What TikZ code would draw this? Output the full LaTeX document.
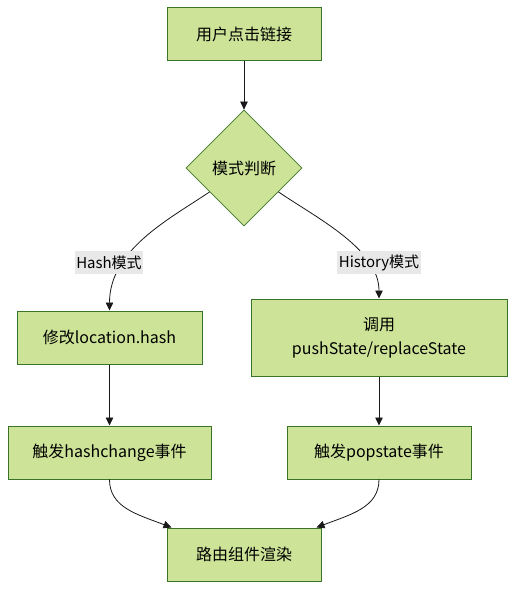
\documentclass[tikz,border=0pt]{standalone}
\usepackage{fontspec}
\setmainfont{Noto Sans CJK SC}
\usepackage{tikz}
\usetikzlibrary{arrows.meta,calc,positioning,shapes.geometric}
\definecolor{boxfill}{HTML}{CDE498}
\definecolor{boxline}{HTML}{3A7428}
\definecolor{labfill}{HTML}{E8E8E8}
\tikzset{
	flow chart/.style={
		x=1pt, y=-1pt,
		font=\fontsize{16}{24}\selectfont,
		link/.style={draw=black!90, line width=.8pt, -{Triangle[length=8pt,width=7.5pt]}},
		stepbox/.style={draw=boxline, fill=boxfill, line width=1pt, inner sep=0pt,
			minimum width=##1, minimum height=53pt, align=center},
		choice/.style={diamond, draw=boxline, fill=boxfill, line width=.8pt, inner sep=0pt,
			minimum width=116pt, minimum height=116pt},
		edge label/.style={fill=labfill, inner sep=1.5pt, minimum height=23pt,
			font=\fontsize{15}{18}\selectfont}
	}
}
\begin{document}
\begin{tikzpicture}[flow chart]
	\useasboundingbox (0,0) rectangle (524,598);
	\node[stepbox=154pt] (click) at (244,34) {用户点击链接};
	\node[choice] (mode) at (244,168) {模式判断};
	\node[stepbox=185pt] (sethash) at (109.5,337.5) {修改location.hash};
	\node[stepbox=256pt, minimum height=77pt] (callapi) at (379,337.5) {调用\\pushState/replaceState};
	\node[stepbox=203pt] (hashev) at (109.5,452.5) {触发hashchange事件};
	\node[stepbox=184pt] (popev) at (379,452.5) {触发popstate事件};
	\node[stepbox=154pt] (render) at (244,554.5) {路由组件渲染};
	\draw[link] (click) -- (mode);
	\draw[link] ($(mode.west)!.41!(mode.south)$) .. controls +(-40,27) and +(0,-61) .. (sethash.north);
	\draw[link] ($(mode.east)!.41!(mode.south)$) .. controls +(40,27) and +(0,-49) .. (callapi.north);
	\draw[link] (sethash) -- (hashev);
	\draw[link] (callapi) -- (popev);
	\draw[link] (hashev.south) .. controls +(0,28) and +(-34,-13) .. ($(render.north west)+(5,0)$);
	\draw[link] (popev.south) .. controls +(0,28) and +(34,-13) .. ($(render.north east)+(-5,0)$);
	% branch labels sit on top of the curves
	\node[edge label] (hashlab) at (109,262.5) {Hash模式};
	\node[edge label] (histlab) at (379,262.5) {History模式};
\end{tikzpicture}
\end{document}
